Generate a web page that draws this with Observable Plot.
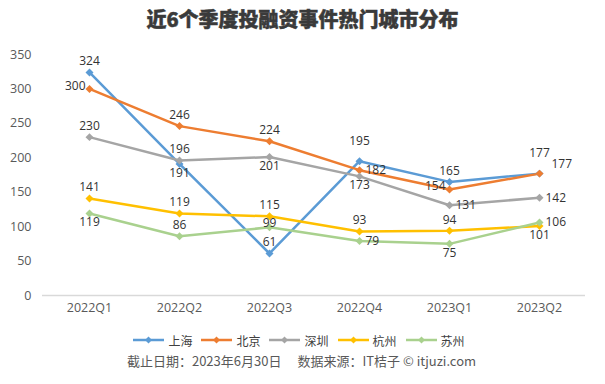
<!DOCTYPE html>
<html><head><meta charset="utf-8">
<script src="https://cdn.jsdelivr.net/npm/d3@7"></script>
<script src="https://cdn.jsdelivr.net/npm/@observablehq/plot@0.6"></script>
<style>
body{margin:0;background:#fff;font-family:"Open Sans","Noto Sans CJK SC",sans-serif;}
#wrap{width:605px;height:384px;position:relative;overflow:hidden}
#title{position:absolute;top:4px;left:0;width:605px;text-align:center;font-family:"Noto Sans CJK SC";font-weight:900;font-size:20px;color:#3a3a3a;line-height:30px;-webkit-text-stroke:0.5px #3a3a3a}
#chart{position:absolute;top:36px;left:0}
#legend{position:absolute;top:331px;left:0;width:598px;display:flex;justify-content:center;align-items:center;height:18px;font-family:"Noto Sans CJK SC";font-size:12px;color:#404040}
#legend .item{display:flex;align-items:center;margin:0 4.5px}
#legend svg{margin-right:4px}
#footer{position:absolute;top:351px;left:0;width:603px;text-align:center;font-family:"Noto Sans CJK SC";font-size:13px;color:#595959;line-height:20px;white-space:pre}
#footer span{margin-left:16px}
</style></head>
<body><div id="wrap">
<div id="title">近6个季度投融资事件热门城市分布</div>
<div id="chart"></div>
<div id="legend"></div>
<div id="footer">截止日期：2023年6月30日<span>数据来源：IT桔子 © itjuzi.com</span></div>
</div>
<script>
const quarters = ["2022Q1","2022Q2","2022Q3","2022Q4","2023Q1","2023Q2"];
const cities = ["上海","北京","深圳","杭州","苏州"];
const cityColors = ["#5B9BD5","#ED7D31","#A5A5A5","#FFC000","#A9D18E"];
const shanghai = [324,191,61,195,165,177];
const beijing  = [300,246,224,182,154,177];
const shenzhen = [230,196,201,173,131,142];
const hangzhou = [141,119,115,93,94,101];
const suzhou   = [119,86,99,79,75,106];
// label placement codes: t=above, T=further above, c=slightly above, b=below, l=left, r=right, R=right-up
const shanghaiPos = ["t","b","t","T","t","T"];
const beijingPos  = ["l","t","t","r","l","R"];
const shenzhenPos = ["t","t","b","b","r","r"];
const hangzhouPos = ["t","t","t","t","t","b"];
const suzhouPos   = ["b","t","c","r","b","r"];
const yTicks = [0,50,100,150,200,250,300,350];

const series = [shanghai,beijing,shenzhen,hangzhou,suzhou];
const positions = [shanghaiPos,beijingPos,shenzhenPos,hangzhouPos,suzhouPos];
const rows = [];
cities.forEach((c,i)=>quarters.forEach((q,j)=>rows.push({city:c,quarter:q,value:series[i][j],pos:positions[i][j]})));

const place = {
  t:{dx:0,dy:-11,textAnchor:"middle"},
  T:{dx:0,dy:-20,textAnchor:"middle"},
  c:{dx:0,dy:-4,textAnchor:"middle"},
  b:{dx:0,dy:9,textAnchor:"middle"},
  l:{dx:-4,dy:-3,textAnchor:"end"},
  r:{dx:6,dy:0,textAnchor:"start"},
  R:{dx:12,dy:-9,textAnchor:"start"}
};
const labelMarks = Object.entries(place).map(([k,o])=>Plot.text(rows.filter(d=>d.pos===k),{
  x:"quarter",y:"value",text:d=>String(d.value),dx:o.dx,dy:o.dy,textAnchor:o.textAnchor,
  fill:"#333",fontSize:12
}));

const chart = Plot.plot({
  width:605,height:286,marginLeft:42,marginRight:20,marginTop:18,marginBottom:27,
  style:{fontFamily:"'Open Sans','Noto Sans CJK SC',sans-serif",color:"#595959",background:"transparent"},
  x:{type:"point",domain:quarters,padding:0.5},
  y:{domain:[0,350]},
  color:{domain:cities,range:cityColors},
  marks:[
    Plot.axisY({ticks:yTicks,tickSize:0,tickPadding:11,fontSize:12.5,label:null}),
    Plot.axisX({tickSize:0,tickPadding:8,fontSize:12.5,label:null}),
    Plot.ruleY([0],{stroke:"#d9d9d9",strokeWidth:1.5}),
    Plot.line(rows,{x:"quarter",y:"value",z:"city",stroke:"city",strokeWidth:2.5}),
    Plot.dot(rows,{x:"quarter",y:"value",fill:"city",symbol:"diamond2",r:3.6,stroke:null}),
    ...labelMarks
  ]
});
document.getElementById("chart").appendChild(chart);

const legend = document.getElementById("legend");
cities.forEach((c,i)=>{
  const item = document.createElement("div");
  item.className="item";
  item.innerHTML = `<svg width="31" height="10"><line x1="0" y1="5" x2="31" y2="5" stroke="${cityColors[i]}" stroke-width="2.5"/><path d="M15.5 1.5L19 5L15.5 8.5L12 5Z" fill="${cityColors[i]}"/></svg><span>${c}</span>`;
  legend.appendChild(item);
});
</script>
</body></html>
